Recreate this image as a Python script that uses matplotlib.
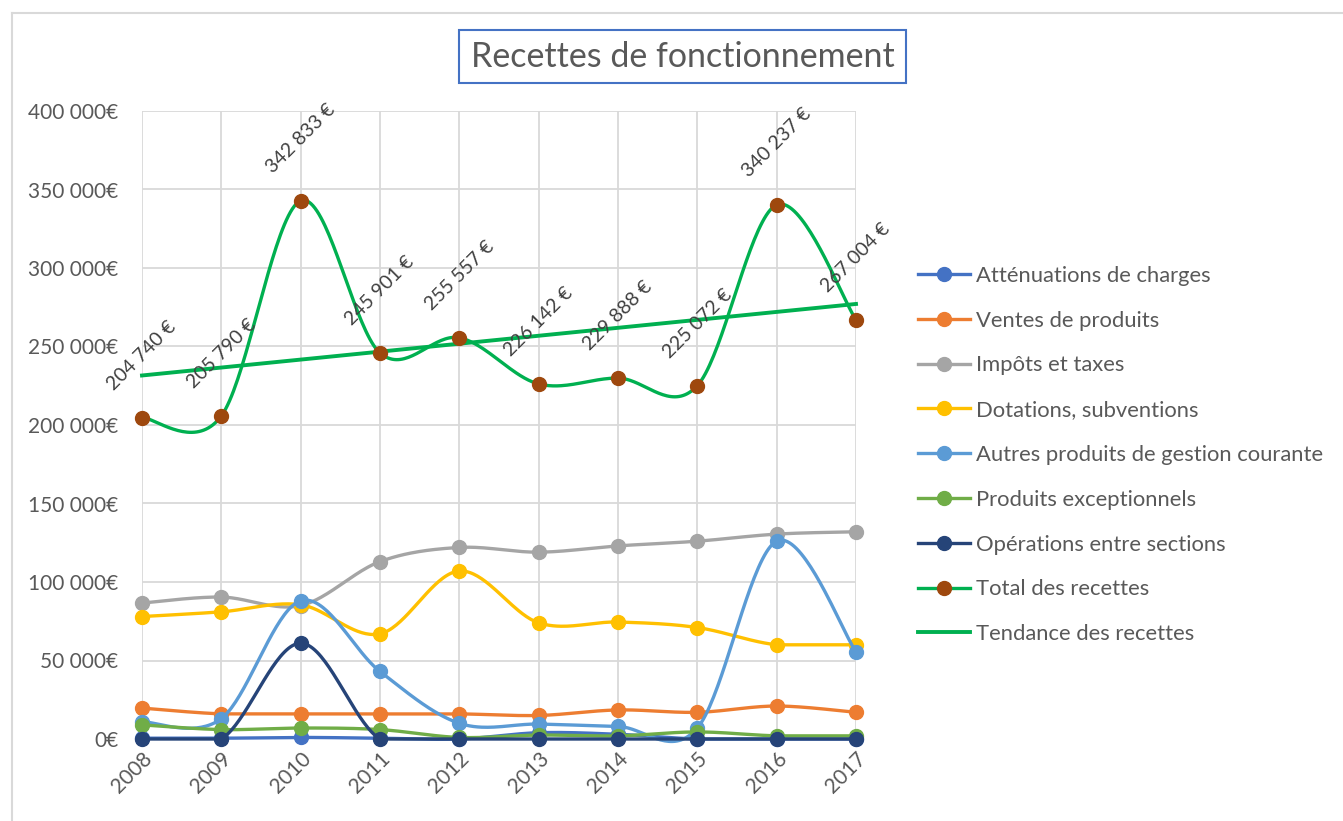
import numpy as np
import matplotlib
matplotlib.use("Agg")
import matplotlib.pyplot as plt
from matplotlib.lines import Line2D
from matplotlib.patches import Rectangle

years = [2008, 2009, 2010, 2011, 2012, 2013, 2014, 2015, 2016, 2017]
attenuations = [500, 500, 1000, 500, 0, 4000, 3000, 0, 0, 0]
ventes = [19700, 16000, 16000, 16000, 16000, 15000, 18500, 17000, 21000, 17000]
impots = [86600, 90400, 85000, 113000, 122000, 119000, 123000, 126000, 130500, 132000]
dotations = [78000, 81000, 85500, 67000, 107000, 74000, 74500, 71000, 60000, 60000]
autres = [11000, 13000, 88000, 43000, 10000, 9500, 8000, 7000, 126000, 55500]
exceptionnels = [9000, 6000, 7000, 6000, 1000, 2500, 2000, 4500, 2000, 2000]
operations = [0, 0, 61000, 0, 0, 0, 0, 0, 0, 0]
total = [204740, 205790, 342833, 245901, 255557, 226142, 229888, 225072, 340237, 267004]

labels = ["Atténuations de charges", "Ventes de produits", "Impôts et taxes",
          "Dotations, subventions", "Autres produits de gestion courante",
          "Produits exceptionnels", "Opérations entre sections",
          "Total des recettes", "Tendance des recettes"]
yticks = [0, 50000, 100000, 150000, 200000, 250000, 300000, 350000, 400000]

plt.rcParams['font.family'] = ['Lato', 'DejaVu Sans']

W, H = 1343, 821
fig = plt.figure(figsize=(W / 100, H / 100), dpi=100)
fig.patch.set_facecolor('white')

# outer border (left and top only visible)
fig.add_artist(Line2D([11.5 / W, 11.5 / W], [0, 1 - 13 / H], transform=fig.transFigure,
                      color='#d9d9d9', lw=1.5))
fig.add_artist(Line2D([11.5 / W, 1], [1 - 13 / H, 1 - 13 / H], transform=fig.transFigure,
                      color='#d9d9d9', lw=1.5))

x0, x1, y0, y1 = 142, 856, 739, 111
ax = fig.add_axes([x0 / W, (H - y0) / H, (x1 - x0) / W, (y0 - y1) / H])
ax.set_xlim(2008, 2017)
ax.set_ylim(0, 400000)
for s in ax.spines.values():
    s.set_visible(False)
ax.set_xticks(years)
ax.set_yticks(yticks)
ax.grid(True, color='#d9d9d9', lw=1.3)
ax.set_axisbelow(True)
ax.tick_params(length=0, colors='#595959', labelsize=15)
ax.tick_params(axis='y', pad=17)
ax.tick_params(axis='x', pad=7)
ax.set_yticklabels([f"{v:,}".replace(",", " ") + "€" for v in yticks])
for t in ax.get_xticklabels():
    t.set_rotation(45)
    t.set_ha('right')
    t.set_rotation_mode('anchor')


def smooth(xs, ys, n=40):
    xs = np.asarray(xs, float)
    ys = np.asarray(ys, float)
    px = np.concatenate([[xs[0]], xs, [xs[-1]]])
    py = np.concatenate([[ys[0]], ys, [ys[-1]]])
    outx, outy = [], []
    t = np.linspace(0, 1, n)
    for i in range(1, len(px) - 2):
        p0x, p3x = px[i], px[i + 1]
        p0y, p3y = py[i], py[i + 1]
        c1x = p0x + (px[i + 1] - px[i - 1]) / 6
        c1y = p0y + (py[i + 1] - py[i - 1]) / 6
        c2x = p3x - (px[i + 2] - px[i]) / 6
        c2y = p3y - (py[i + 2] - py[i]) / 6
        if p0y == p3y:  # flat segment stays flat
            c1y = c2y = p0y
        bx = (1 - t) ** 3 * p0x + 3 * (1 - t) ** 2 * t * c1x + 3 * (1 - t) * t ** 2 * c2x + t ** 3 * p3x
        by = (1 - t) ** 3 * p0y + 3 * (1 - t) ** 2 * t * c1y + 3 * (1 - t) * t ** 2 * c2y + t ** 3 * p3y
        outx.append(bx)
        outy.append(by)
    return np.concatenate(outx), np.concatenate(outy)


series = [attenuations, ventes, impots, dotations, autres, exceptionnels, operations]
colors = ['#4472C4', '#ED7D31', '#A5A5A5', '#FFC000', '#5B9BD5', '#70AD47', '#264478']
handles = []
lw = 2.4
ms = 10
for i, (vals, c) in enumerate(zip(series, colors)):
    sx, sy = smooth(years, vals)
    ax.plot(sx, sy, color=c, lw=lw, zorder=3 + i * 0.1, clip_on=False)
    ax.plot(years, vals, 'o', color=c, ms=ms, zorder=3.05 + i * 0.1, clip_on=False)
    handles.append(Line2D([], [], color=c, lw=lw, marker='o', ms=ms))

green = '#00B050'
brown = '#9E480E'
sx, sy = smooth(years, total)
ax.plot(sx, sy, color=green, lw=lw, zorder=5, clip_on=False)
ax.plot(years, total, 'o', color=brown, ms=ms, zorder=5.1, clip_on=False)
handles.append(Line2D([], [], color=green, lw=lw, marker='o', ms=ms,
                      markerfacecolor=brown, markeredgecolor=brown))

coef = np.polyfit(years, total, 1)
trend = np.polyval(coef, years)
ax.plot(years, trend, color=green, lw=lw + 0.4, zorder=5.05, clip_on=False)
handles.append(Line2D([], [], color=green, lw=lw + 0.4))

for xv, v in zip(years, total):
    ax.annotate(f"{v:,}".replace(",", " ") + " €", (xv, v), xytext=(0, 62),
                textcoords='offset pixels', rotation=45, ha='center', va='center',
                rotation_mode='anchor', fontsize=14, color='#404040', zorder=6,
                annotation_clip=False)

leg = fig.legend(handles, labels, loc='upper left', bbox_to_anchor=(898 / W, 1 - 246 / H),
                 frameon=False, fontsize=15.8, handlelength=2.37, handletextpad=0.3,
                 labelspacing=1.13, labelcolor='#595959')

# title
fig.add_artist(Rectangle((459 / W, 1 - 83 / H), (906 - 459) / W, (83 - 30) / H,
                         transform=fig.transFigure, fill=False, edgecolor='#4472C4', lw=1.5))
fig.text(682.5 / W, 1 - 57 / H, "Recettes de fonctionnement", ha='center', va='center',
         fontsize=24.5, color='#595959')

fig.savefig("out.png", dpi=100)
